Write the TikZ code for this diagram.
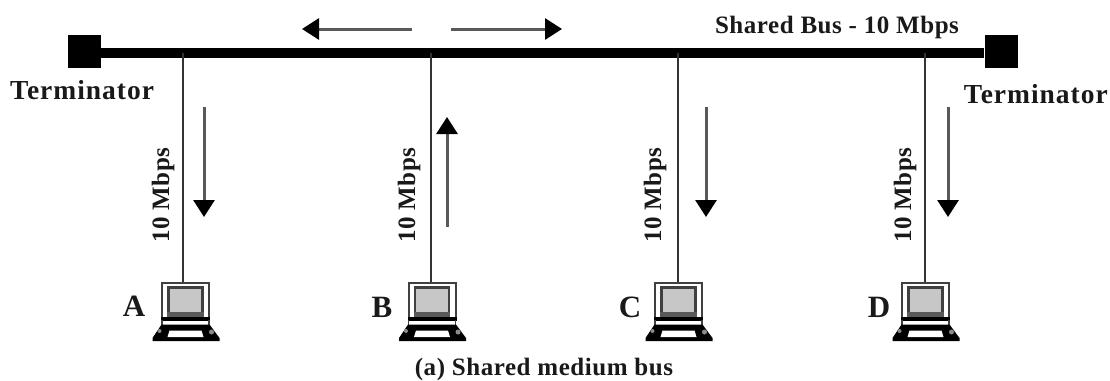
\documentclass[tikz,border=0pt]{standalone}
\usepackage{fontspec}
\setmainfont{Liberation Serif}
\usetikzlibrary{arrows.meta}
\tikzset{
  lab/.style={font=\fontsize{25}{27}\selectfont\bfseries\addfontfeatures{LetterSpace=2.2},inner sep=0pt,text=black!90},
  letter/.style={font=\fontsize{31}{33}\selectfont\bfseries,inner sep=0pt,text=black!90},
  term/.style={font=\fontsize{27.5}{29}\selectfont\bfseries\addfontfeatures{LetterSpace=3.6},inner sep=0pt,text=black!90},
  terminatorbox/.style={fill=black,minimum width=33pt,minimum height=33pt,inner sep=0pt},
  busline/.style={line width=10pt},
  wire/.style={line width=2pt,black!80},
  flow/.style={line width=3pt,black!65,-{Triangle[length=17pt,width=21pt,black]}},
  monitor/.style={draw=black!75,line width=2pt,fill=white,minimum width=47pt,minimum height=36pt,inner sep=0pt},
}
\newcommand{\laptop}[2]{%
  \begin{scope}[shift={(#1,0)}]
    \node[monitor] (#2) at (0,301) {};
    \draw[black!75,line width=2.6pt,fill=black!22] (-17,287.5) rectangle (17,315);
    \fill[black!65] (-18.3,311.5) rectangle (18.3,317);
    \fill[black] (-24.5,317) rectangle (24.5,320.5);
    \draw[black!75,line width=1.6pt] (-23.5,320) -- (-23.5,325) (23.5,320) -- (23.5,325);
    \fill[black] (-24,324.5) -- (24,324.5) -- (34,338) -- (34,341) -- (-33,341) -- (-33,338) -- cycle;
    \fill[white] (-16,330.5) -- (16,330.5) -- (18,337) -- (-18,337) -- cycle;
    \fill[black!45] (-26,331) circle (2pt) (26,332) circle (2.5pt);
  \end{scope}}
\begin{document}
\begin{tikzpicture}[x=1pt,y=-1pt]
\useasboundingbox (0,0) rectangle (1110,380);
\node[terminatorbox] (tl) at (84,51.5) {};
\node[terminatorbox] (tr) at (1001,51.5) {};
\draw[busline] (tl.east |- 0,53) -- (tr.west |- 0,53);
\coordinate (ta) at (183,53);
\coordinate (tb) at (431,53);
\coordinate (tc) at (678,53);
\coordinate (td) at (925,53);
\laptop{185.5}{pa}
\laptop{432}{pb}
\laptop{678.5}{pc}
\laptop{925.5}{pd}
\draw[wire] (ta) -- (ta |- pa.north);
\draw[wire] (tb) -- (tb |- pb.north);
\draw[wire] (tc) -- (tc |- pc.north);
\draw[wire] (td) -- (td |- pd.north);
\coordinate (ls) at (412,29); \coordinate (le) at (302,29);
\coordinate (rs) at (451,29); \coordinate (re) at (562,29);
\draw[flow] (ls) -- (le);
\draw[flow] (rs) -- (re);
\coordinate (as) at (204,107); \coordinate (ae) at (204,217);
\coordinate (bs) at (447,227); \coordinate (be) at (447,117);
\coordinate (cs) at (706,107); \coordinate (ce) at (706,217);
\coordinate (ds) at (948,107); \coordinate (de) at (948,217);
\draw[flow] (as) -- (ae);
\draw[flow] (bs) -- (be);
\draw[flow] (cs) -- (ce);
\draw[flow] (ds) -- (de);
\node[term,anchor=west] (tla) at (10,90) {Terminator};
\node[term,anchor=east] (tra) at (1108,94) {Terminator};
\node[lab] (bus) at (837,27) {Shared Bus - 10 Mbps};
\node[lab,rotate=90] (ma) at (163,195) {10 Mbps};
\node[lab,rotate=90] (mb) at (409,195) {10 Mbps};
\node[lab,rotate=90] (mc) at (655,195) {10 Mbps};
\node[lab,rotate=90] (md) at (905,195) {10 Mbps};
\node[letter] (la) at (134,306) {A};
\node[letter] (lb) at (382,307) {B};
\node[letter] (lc) at (630,307) {C};
\node[letter] (ld) at (879,307) {D};
\node[lab] (cap) at (544,369) {(a) Shared medium bus};
\end{tikzpicture}
\end{document}
